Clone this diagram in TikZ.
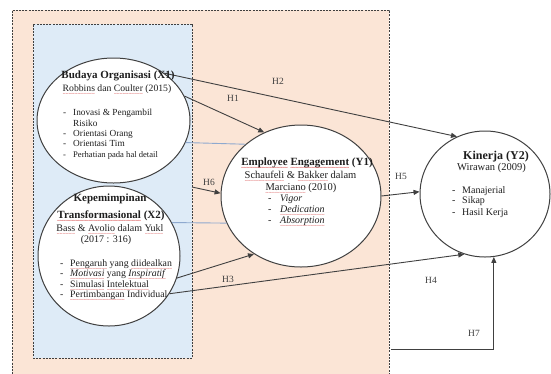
\documentclass[tikz,border=0pt]{standalone}
\usepackage{fontspec}
\setmainfont{Liberation Serif}
\usetikzlibrary{arrows.meta,shapes.geometric}
\definecolor{peach}{HTML}{FBE5D6}
\definecolor{lblue}{HTML}{DEEBF7}
\definecolor{lnblue}{HTML}{8EA9CF}
\definecolor{dk}{HTML}{404040}
\definecolor{txt}{HTML}{1E1E1E}
\definecolor{sq}{HTML}{D02828}
\newsavebox\rwbox
\newcommand{\rw}[1]{\sbox\rwbox{#1}\rlap{\usebox\rwbox}\textcolor{sq}{\xleaders\hbox{\fontsize{5}{5}\selectfont\lower4.4pt\hbox{\char"7E}}\hskip\wd\rwbox}}
\newcommand{\dsh}[1]{\makebox[#1][l]{-}}
\begin{document}
\begin{tikzpicture}[x=1pt,y=-1pt,
  region/.style={draw=dk, line width=0.7pt, dash pattern=on 2pt off 1.2pt, inner sep=0pt, outer sep=0pt},
  ell/.style={ellipse, draw=dk, line width=1pt, fill=white, inner sep=0pt},
  arr/.style={draw=dk, line width=0.9pt, -{Triangle[length=6pt,width=5pt]}},
  bl/.style={draw=lnblue, line width=0.9pt},
  hl/.style={font=\fontsize{9.5}{11}\selectfont, text=dk, inner sep=0pt},
  ttl/.style={font=\fontsize{#1}{13}\selectfont\bfseries, text=txt, anchor=base, inner sep=0pt},
  src/.style={font=\fontsize{#1}{12}\selectfont, text=txt, anchor=base, inner sep=0pt},
  li/.style={font=\fontsize{#1}{12}\selectfont, text=txt, anchor=base west, inner sep=0pt}
]
\useasboundingbox (0,0) rectangle (551,373);
\clip (0,0) rectangle (551,373);
\fill[white] (0,0) rectangle (551,373);

% regions
\node[region, fill=peach, minimum width=377pt, minimum height=375pt] (outer) at (200.5,197.5) {};
\node[region, fill=lblue, minimum width=159pt, minimum height=334pt] (inner) at (112.5,191) {};

% ellipses
\node[ell, minimum width=153pt, minimum height=125pt] (x1) at (113.5,120.5) {};
\node[ell, minimum width=142pt, minimum height=140pt] (x2) at (109,256) {};
\node[ell, minimum width=160pt, minimum height=142pt] (y1) at (301,196) {};
\node[ell, minimum width=130pt, minimum height=126pt] (y2) at (485,194) {};

% connectors
\draw[bl] (x1.-17) -- (y1.137);
\draw[bl] (x2.28) -- (y1.200);
\draw[arr] (x1.43) -- (y2.116);
\draw[arr] (x1.19) -- (y1.120);
\draw[arr] ([yshift=4pt]inner.east) -- (y1.178);
\draw[arr] (x2.-18) -- (y1.231);
\draw[arr] (x2.-32) -- (y2.251);
\draw[arr] (y1.0) -- (y2.178);
\coordinate (h7) at (391,349);
\draw[arr] (h7) -| (y2.278);

% hypothesis labels
\node[hl] (lh1) at (233,98) {H1};
\node[hl] (lh2) at (278,81) {H2};
\node[hl] (lh3) at (228,279) {H3};
\node[hl] (lh4) at (431,280) {H4};
\node[hl] (lh5) at (401,176) {H5};
\node[hl] (lh6) at (209,182) {H6};
\node[hl] (lh7) at (474,333) {H7};

% X1 text
\node[ttl=11] (x1a) at (118,78) {Budaya Organisasi (X1)};
\node[src=9.7] (x1b) at (117,91) {\rw{Robbins} dan \rw{Coulter} (2015)};
\node[li=9.3] (x1c) at (63,115) {\dsh{10pt}Inovasi \& Pengambil};
\node[li=9.3] (x1d) at (73,126) {Risiko};
\node[li=9.3] (x1e) at (63,136.5) {\dsh{10pt}Orientasi Orang};
\node[li=9.3] (x1f) at (63,146.5) {\dsh{10pt}Orientasi Tim};
\node[li=8.6] (x1g) at (63,157) {\dsh{10pt}Perhatian pada hal detail};

% X2 text
\node[ttl=11] (x2a) at (110,201) {Kepemimpinan};
\node[ttl=11] (x2b) at (111,218) {\rw{Transformasional} (X2)};
\node[src=10] (x2c) at (110,231.5) {\rw{Bass} \& \rw{Avolio} dalam \rw{Yukl}};
\node[src=10] (x2d) at (106,242) {(2017 : 316)};
\node[li=9.8] (x2e) at (60,266) {\dsh{10pt}\rw{Pengaruh} yang \rw{diidealkan}};
\node[li=9.8] (x2f) at (60,276.5) {\dsh{10pt}\rw{\textit{Motivasi}} yang \rw{\textit{Inspiratif}}};
\node[li=9.8] (x2g) at (60,287) {\dsh{10pt}\rw{Simulasi} \rw{Intelektual}};
\node[li=9.8] (x2h) at (60,297.5) {\dsh{10pt}\rw{Pertimbangan} Individual};

% Y1 text
\node[ttl=11] (y1a) at (307,165) {\rw{Employee} \rw{Engagement} (Y1)};
\node[src=10.5] (y1b) at (300.5,178) {\rw{Schaufeli} \& \rw{Bakker} dalam};
\node[src=10.5] (y1c) at (301,190) {\rw{Marciano} (2010)};
\node[li=10] (y1d) at (268,201) {\dsh{12pt}\textit{Vigor}};
\node[li=10] (y1e) at (268,212) {\dsh{12pt}\rw{\textit{Dedication}}};
\node[li=10] (y1f) at (268,223) {\dsh{12pt}\rw{\textit{Absorption}}};

% Y2 text
\node[ttl=12] (y2a) at (496,159.5) {Kinerja (Y2)};
\node[src=10.5] (y2b) at (491.5,170.5) {Wirawan (2009)};
\node[li=10] (y2c) at (452,193) {\dsh{10pt}Manajerial};
\node[li=10] (y2d) at (452,203.5) {\dsh{10pt}Sikap};
\node[li=10] (y2e) at (452,215) {\dsh{10pt}Hasil Kerja};
\end{tikzpicture}
\end{document}
